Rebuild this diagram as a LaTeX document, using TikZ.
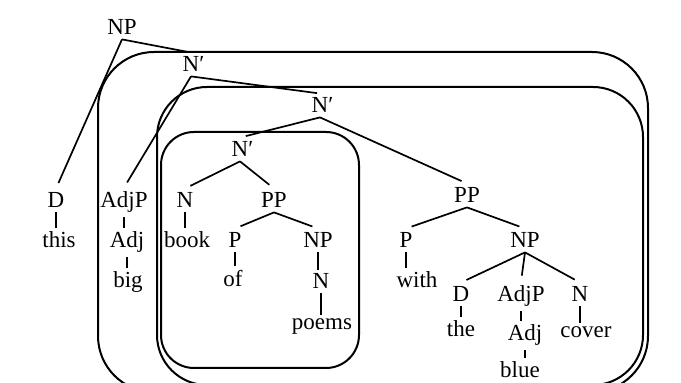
\documentclass[tikz,border=0pt]{standalone}
\usepackage{fontspec}
\setmainfont{Liberation Serif}
\begin{document}
\begin{tikzpicture}[x=0.5pt,y=-0.5pt,
  cat/.style={anchor=base,inner xsep=1pt,inner ysep=2pt,
    font=\fontsize{11.5}{13}\selectfont},
  branch/.style={line width=0.85pt,shorten >=3pt},
  branchbar/.style={line width=0.85pt,shorten >=1.5pt},
  unary/.style={line width=1pt},
  constituent/.style={line width=1pt}]
\path[use as bounding box] (0,0) rectangle (681,383);
\clip (0,0) rectangle (681,383);
\fill[white] (0,0) rectangle (681,383);

% constituent boxes
\draw[constituent,rounded corners=28pt] (98,52) rectangle (648,392);
\draw[constituent,rounded corners=25pt] (157,87) rectangle (643,385);
\draw[constituent,rounded corners=16.5pt] (161,132) rectangle (359,368);

% tree nodes
\node[cat] (np0) at (122,35) {NP};
\node[cat] (nb1) at (191,72) {N\rlap{′}};
\node[cat] (nb2) at (320,113) {N\rlap{′}};
\node[cat] (nb3) at (240,157) {N\rlap{′}};

\node[cat] (d1) at (56,208) {D};
\node[cat] (this) at (59,248) {this};
\node[cat] (adjp1) at (124,208) {AdjP};
\node[cat] (adj1) at (127,248) {Adj};
\node[cat] (big) at (128,288) {big};

\node[cat] (n1) at (185,208) {N};
\node[cat] (book) at (187,248) {book};
\node[cat] (pp1) at (274,208) {PP};
\node[cat] (p1) at (235,248) {P};
\node[cat] (of) at (233,287) {of};
\node[cat] (np1) at (318,248) {NP};
\node[cat] (n2) at (321,289) {N};
\node[cat] (poems) at (322,330) {poems};

\node[cat] (pp2) at (467,203) {PP};
\node[cat] (p2) at (406,248) {P};
\node[cat] (with) at (417,288) {with};
\node[cat] (np2) at (525,248) {NP};
\node[cat] (d2) at (461,302) {D};
\node[cat] (the) at (461,337) {the};
\node[cat] (adjp2) at (521,302) {AdjP};
\node[cat] (adj2) at (525,341) {Adj};
\node[cat] (blue) at (520,378) {blue};
\node[cat] (n3) at (580,302) {N};
\node[cat] (cover) at (586,338) {cover};

% branching edges
\draw[branchbar] (np0.south) -- (nb1.north);
\draw[branch] (np0.south) -- (d1.north);
\draw[branch] (nb1.south) -- (adjp1.north);
\draw[branchbar] (nb1.south) -- (nb2.north);
\draw[branch] (nb2.south) -- (nb3.north);
\draw[branch] (nb2.south) -- (pp2.north);
\draw[branch] (nb3.south) -- (n1.north);
\draw[branch] (nb3.south) -- (pp1.north);
\draw[branch] (pp1.south) -- (p1.north);
\draw[branch] (pp1.south) -- (np1.north);
\draw[branch] (pp2.south) -- (p2.north);
\draw[branch] (pp2.south) -- (np2.north);
\draw[branch] (np2.south) -- (d2.north);
\draw[branch] (np2.south) -- (adjp2.north);
\draw[branch] (np2.south) -- (n3.north);

% unary edges
\foreach \p/\c in {d1/this,adjp1/adj1,adj1/big,n1/book,p1/of,np1/n2,n2/poems,
                   p2/with,d2/the,adjp2/adj2,adj2/blue,n3/cover}
  \draw[unary] (\p.south) -- (\p.south |- \c.north);
\end{tikzpicture}
\end{document}
